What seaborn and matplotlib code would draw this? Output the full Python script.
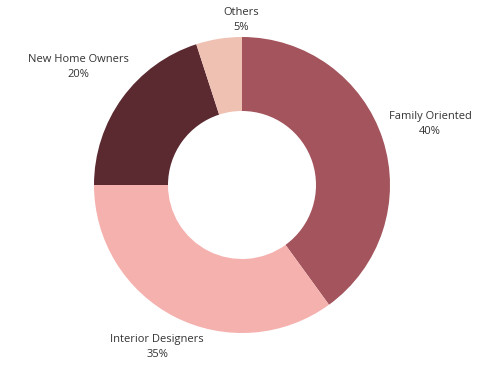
import matplotlib
matplotlib.use("Agg")
import matplotlib.pyplot as plt
import seaborn as sns
import numpy as np

categories = ["Family Oriented", "Interior Designers", "New Home Owners", "Others"]
values = [40, 35, 20, 5]
colors = ["#A3545C", "#F5B1AE", "#5B2A31", "#EFC1B3"]

sns.set_theme(style="white")
plt.rcParams['font.family'] = ['Open Sans', 'DejaVu Sans']

W, H = 501, 368
fig = plt.figure(figsize=(W / 100, H / 100), dpi=100)
ax = fig.add_axes([0, 0, 1, 1])

cx, cy, R = 242, 185, 148  # pixel center & radius
ax.pie(values, colors=colors, startangle=90, counterclock=False,
       radius=1.0, wedgeprops=dict(width=0.5, edgecolor="none", linewidth=0))
ax.set_aspect("auto")
ax.set_xlim(-cx / R, (W - cx) / R)
ax.set_ylim(-(H - cy) / R, cy / R)
ax.axis("off")

# label offsets (pixels, relative to pie center) - layout only
label_pos = [(188, -61), (-85, 162), (-164, -118), (-1, -165)]
for cat, v, (dx, dy) in zip(categories, values, label_pos):
    ax.text(dx / R, -dy / R, f"{cat}\n{v}%", ha="center", va="center",
            fontsize=8, color="#333333", linespacing=1.4)

fig.savefig("out.png", dpi=100, facecolor="white")
